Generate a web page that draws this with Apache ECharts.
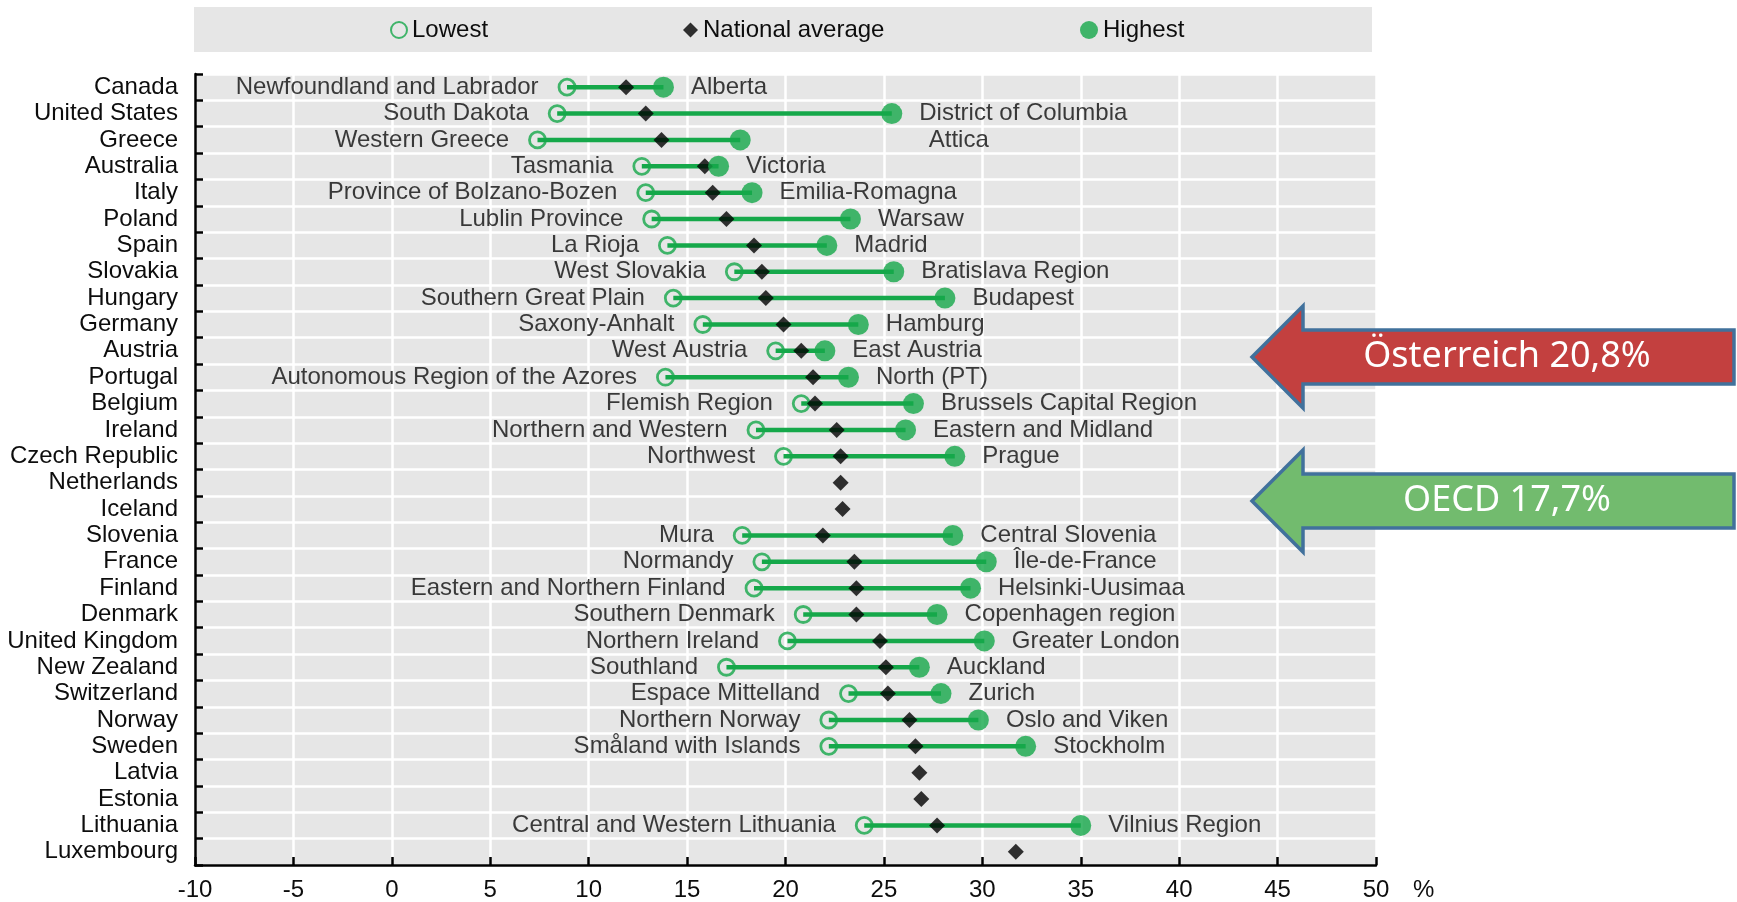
<!DOCTYPE html>
<html>
<head>
<meta charset="utf-8">
<script src="https://cdn.jsdelivr.net/npm/echarts@6/dist/echarts.min.js"></script>
<style>
html,body{margin:0;padding:0;background:#fff;}
#chart{width:1737px;height:902px;}
</style>
</head>
<body>
<div id="chart"></div>
<script>
const countries = ['Canada','United States','Greece','Australia','Italy','Poland','Spain','Slovakia','Hungary','Germany','Austria','Portugal','Belgium','Ireland','Czech Republic','Netherlands','Iceland','Slovenia','France','Finland','Denmark','United Kingdom','New Zealand','Switzerland','Norway','Sweden','Latvia','Estonia','Lithuania','Luxembourg'];
const lowestValues  = [8.9, 8.4, 7.4, 12.7, 12.9, 13.2, 14.0, 17.4, 14.3, 15.8, 19.5, 13.9, 20.8, 18.5, 19.9, null, null, 17.8, 18.8, 18.4, 20.9, 20.1, 17.0, 23.2, 22.2, 22.2, null, null, 24.0, null];
const averageValues = [11.9, 12.9, 13.7, 15.9, 16.3, 17.0, 18.4, 18.8, 19.0, 19.9, 20.8, 21.4, 21.5, 22.6, 22.8, 22.8, 22.9, 21.9, 23.5, 23.6, 23.6, 24.8, 25.1, 25.2, 26.3, 26.6, 26.8, 26.9, 27.7, 31.7];
const highestValues = [13.8, 25.4, 17.7, 16.6, 18.3, 23.3, 22.1, 25.5, 28.1, 23.7, 22.0, 23.2, 26.5, 26.1, 28.6, null, null, 28.5, 30.2, 29.4, 27.7, 30.1, 26.8, 27.9, 29.8, 32.2, null, null, 35.0, null];
const lowestRegions = ['Newfoundland and Labrador','South Dakota','Western Greece','Tasmania','Province of Bolzano-Bozen','Lublin Province','La Rioja','West Slovakia','Southern Great Plain','Saxony-Anhalt','West Austria','Autonomous Region of the Azores','Flemish Region','Northern and Western','Northwest','','','Mura','Normandy','Eastern and Northern Finland','Southern Denmark','Northern Ireland','Southland','Espace Mittelland','Northern Norway','Småland with Islands','','','Central and Western Lithuania',''];
const highestRegions = ['Alberta','District of Columbia','Attica','Victoria','Emilia-Romagna','Warsaw','Madrid','Bratislava Region','Budapest','Hamburg','East Austria','North (PT)','Brussels Capital Region','Eastern and Midland','Prague','','','Central Slovenia','Île-de-France','Helsinki-Uusimaa','Copenhagen region','Greater London','Auckland','Zurich','Oslo and Viken','Stockholm','','','Vilnius Region',''];
const xTicks = {min: -10, max: 50, interval: 5};
const seriesNames = ['Lowest', 'National average', 'Highest'];
const annotations = ['Österreich 20,8%', 'OECD 17,7%'];

// layout-only tweak (label placed further away in the original)
const labelNudge = {'Attica': 161};

const GREEN = '#15a84a';
const FONT = 'Liberation Sans';
const TXT = '#0d0d0d';
const FS = 24;

const rangeData = [];
const lowData = [];
const highData = [];
const avgData = [];
countries.forEach((c, i) => {
  if (lowestValues[i] != null && highestValues[i] != null) {
    rangeData.push([lowestValues[i], highestValues[i], i]);
    lowData.push({value: [lowestValues[i], c], name: lowestRegions[i]});
    const h = {value: [highestValues[i], c], name: highestRegions[i]};
    if (labelNudge[highestRegions[i]]) h.label = {offset: [labelNudge[highestRegions[i]], 0]};
    highData.push(h);
  }
  avgData.push([averageValues[i], c]);
});

const chart = echarts.init(document.getElementById('chart'), null, {renderer: 'canvas'});

function arrow(tipX, tipY, fill) {
  const headHalf = 51, bodyHalf = 27, headBase = tipX + 51, right = 1734;
  return {
    type: 'polygon', z: 10,
    shape: {points: [
      [tipX, tipY], [headBase, tipY - headHalf], [headBase, tipY - bodyHalf],
      [right, tipY - bodyHalf], [right, tipY + bodyHalf], [headBase, tipY + bodyHalf],
      [headBase, tipY + headHalf]
    ]},
    style: {fill: fill, stroke: '#41719c', lineWidth: 3.5, lineJoin: 'miter'}
  };
}

const legendText = {fontSize: FS, color: TXT, fontFamily: FONT};

const option = {
  animation: false,
  backgroundColor: '#ffffff',
  textStyle: {fontFamily: FONT},
  grid: {left: 195, right: 361, top: 74, bottom: 36, show: true, backgroundColor: '#e6e6e6', borderWidth: 0, containLabel: false},
  legend: [
    {data: [seriesNames[0]], left: 390, top: 18, padding: 0, itemWidth: 16, itemHeight: 16, itemGap: 4, textStyle: legendText},
    {data: [seriesNames[1]], left: 683, top: 18, padding: 0, itemWidth: 15, itemHeight: 15, itemGap: 4, textStyle: legendText},
    {data: [seriesNames[2]], left: 1080, top: 18, padding: 0, itemWidth: 18, itemHeight: 18, itemGap: 4, textStyle: legendText}
  ],
  xAxis: {
    type: 'value', min: xTicks.min, max: xTicks.max, interval: xTicks.interval,
    axisLine: {show: true, onZero: false, lineStyle: {color: '#000', width: 2.5}},
    axisTick: {show: true, inside: true, length: 8, lineStyle: {color: '#000', width: 2.5}},
    axisLabel: {fontSize: FS, color: TXT, margin: 13, fontFamily: FONT},
    splitLine: {show: true, lineStyle: {color: '#ffffff', width: 2.5}}
  },
  yAxis: {
    type: 'category', data: countries, inverse: true,
    axisLine: {show: true, onZero: false, lineStyle: {color: '#000', width: 2.5}},
    axisTick: {show: true, inside: true, length: 8, interval: 0, lineStyle: {color: '#000', width: 2.5}},
    axisLabel: {fontSize: FS, color: TXT, margin: 17, interval: 0, fontFamily: FONT},
    splitLine: {show: true, interval: 0, lineStyle: {color: '#ffffff', width: 2.5}}
  },
  series: [
    {
      type: 'custom', name: 'range', z: 2, silent: true,
      encode: {x: [0, 1], y: 2},
      data: rangeData,
      renderItem: function (params, api) {
        const a = api.coord([api.value(0), api.value(2)]);
        const b = api.coord([api.value(1), api.value(2)]);
        return {type: 'line', shape: {x1: a[0], y1: a[1], x2: b[0], y2: b[1]}, style: {stroke: GREEN, lineWidth: 4.5}};
      }
    },
    {
      type: 'scatter', name: seriesNames[0], z: 3,
      symbol: 'circle', symbolSize: 16,
      itemStyle: {color: 'rgba(0,0,0,0)', borderColor: GREEN, borderWidth: 2.8},
      label: {show: true, position: 'left', distance: 19, formatter: p => p.name, fontSize: FS, color: TXT, fontFamily: FONT},
      data: lowData
    },
    {
      type: 'scatter', name: seriesNames[1], z: 4,
      symbol: 'diamond', symbolSize: [16, 16],
      itemStyle: {color: '#000'},
      data: avgData
    },
    {
      type: 'scatter', name: seriesNames[2], z: 5,
      symbol: 'circle', symbolSize: 21,
      itemStyle: {color: GREEN},
      label: {show: true, position: 'right', distance: 17, formatter: p => p.name, fontSize: FS, color: TXT, fontFamily: FONT},
      data: highData
    }
  ],
  graphic: [
    {type: 'rect', z: -1, shape: {x: 194, y: 7, width: 1178, height: 45}, style: {fill: '#e6e6e6'}},
    {type: 'text', z: 10, x: 1413, y: 890, style: {text: '%', fill: TXT, font: FS + 'px ' + FONT, verticalAlign: 'middle'}},
    arrow(1252, 357, '#c3403f'),
    arrow(1252, 501, '#72bb6e'),
    {type: 'text', z: 11, x: 1507, y: 357, style: {text: annotations[0], fill: '#fff', font: '36px "Noto Sans", "DejaVu Sans", sans-serif', align: 'center', verticalAlign: 'middle'}},
    {type: 'text', z: 11, x: 1507, y: 501, style: {text: annotations[1], fill: '#fff', font: '36px "Noto Sans", "DejaVu Sans", sans-serif', align: 'center', verticalAlign: 'middle'}}
  ]
};
chart.setOption(option);
</script>
</body>
</html>
